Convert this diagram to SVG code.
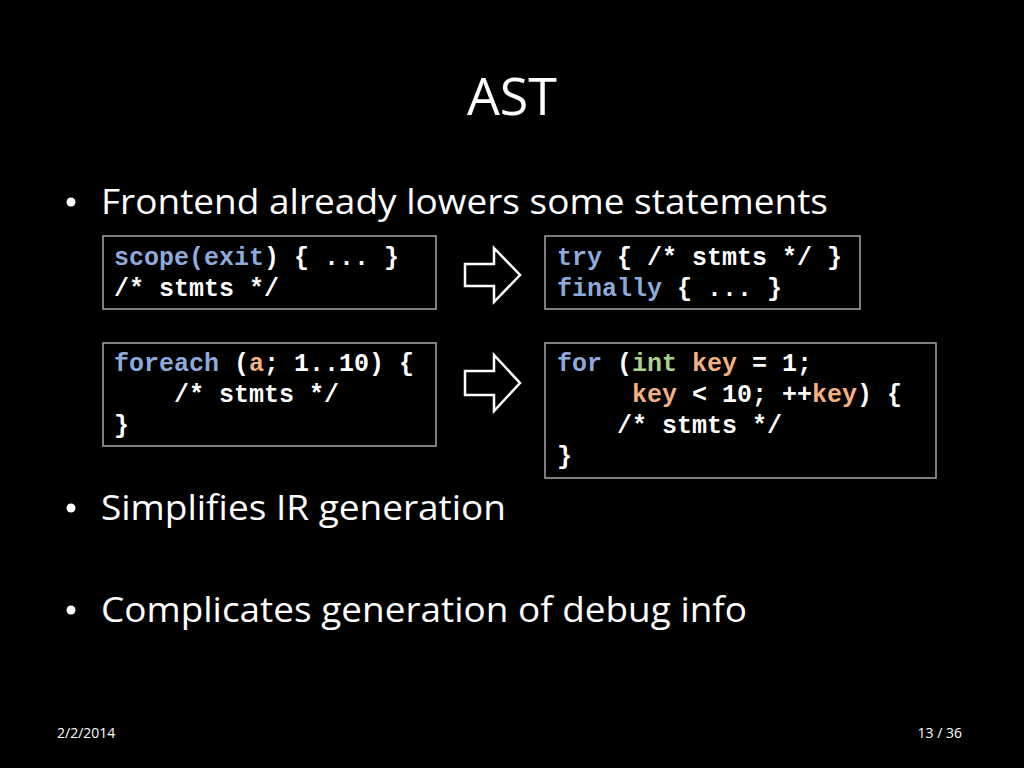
<svg xmlns="http://www.w3.org/2000/svg" width="1024" height="768" viewBox="0 0 1024 768">
<style>
.t{font-family:"Open Sans","Liberation Sans",sans-serif;fill:#fff}
.c{font-family:"Liberation Mono","Courier New",monospace;font-weight:bold;font-size:25px;fill:#fff;white-space:pre}
.b{fill:#000;stroke:#a6a6a6;stroke-width:1.5}
.k{fill:#8eaadb}.o{fill:#f4b183}.g{fill:#a9d18e}
.ar{fill:none;stroke:#fff;stroke-width:2.5}
</style>
<rect width="1024" height="768" fill="#000"/>
<text class="t" x="512" y="115" font-size="52" text-anchor="middle">AST</text>
<g class="t" font-size="35">
<circle cx="71" cy="202" r="4.5" fill="#fff"/><text x="101" y="214" textLength="727" lengthAdjust="spacingAndGlyphs">Frontend already lowers some statements</text>
<circle cx="71" cy="508" r="4.5" fill="#fff"/><text x="101" y="520" textLength="405" lengthAdjust="spacingAndGlyphs">Simplifies IR generation</text>
<circle cx="71" cy="610" r="4.5" fill="#fff"/><text x="101" y="622" textLength="646" lengthAdjust="spacingAndGlyphs">Complicates generation of debug info</text>
</g>
<g id="n1"><rect class="b" x="103" y="236" width="333" height="73"/>
<text class="c" x="114" y="265"><tspan class="k">scope(exit</tspan>) { ... }</text>
<text class="c" x="114" y="296">/* stmts */</text></g>
<g id="n2"><rect class="b" x="545" y="236" width="315" height="73"/>
<text class="c" x="557" y="265"><tspan class="k">try</tspan> { /* stmts */ }</text>
<text class="c" x="557" y="296"><tspan class="k">finally</tspan> { ... }</text></g>
<g id="n3"><rect class="b" x="103" y="343" width="333" height="103"/>
<text class="c" x="114" y="371"><tspan class="k">foreach</tspan> (<tspan class="o">a</tspan>; 1..10) {</text>
<text class="c" x="114" y="402">    /* stmts */</text>
<text class="c" x="114" y="433">}</text></g>
<g id="n4"><rect class="b" x="545" y="343" width="391" height="135"/>
<text class="c" x="557" y="371"><tspan class="k">for</tspan> (<tspan class="g">int</tspan> <tspan class="o">key</tspan> = 1;</text>
<text class="c" x="557" y="402">     <tspan class="o">key</tspan> &lt; 10; ++<tspan class="o">key</tspan>) {</text>
<text class="c" x="557" y="433">    /* stmts */</text>
<text class="c" x="557" y="464">}</text></g>
<g id="connectors">
<path class="ar" d="M465,264 H494 V248 L520,275 L494,302 V286 H465 Z"/>
<path class="ar" d="M465,371 H494 V355 L520,383 L494,411 V395 H465 Z"/>
</g>
<text class="t" x="57" y="738" font-size="14">2/2/2014</text>
<text class="t" x="962" y="738" font-size="14" text-anchor="end">13 / 36</text>
</svg>
